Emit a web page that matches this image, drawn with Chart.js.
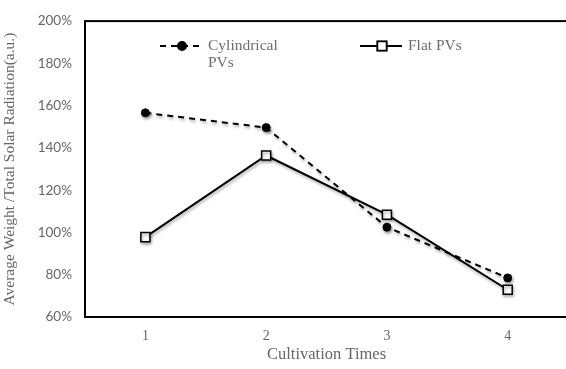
<!DOCTYPE html>
<html><head><meta charset="utf-8">
<script src="https://cdn.jsdelivr.net/npm/chart.js@4/dist/chart.umd.min.js"></script>
<style>html,body{margin:0;padding:0;background:#fff;overflow:hidden;width:566px;height:369px}
#wrap{width:576px;height:369px;position:relative}</style>
</head><body><div id="wrap"><canvas id="c" width="576" height="369"></canvas></div>
<script>
const categories = ['1', '2', '3', '4'];
const seriesNames = ['Cylindrical\nPVs', 'Flat PVs'];
const cylindricalPVs = [156.6, 149.6, 102.5, 78.5];
const flatPVs = [97.8, 136.4, 108.4, 72.9];
const yTicks = [60, 80, 100, 120, 140, 160, 180, 200];
const xTitle = 'Cultivation Times';
const yTitle = 'Average Weight /Total Solar Radiation(a.u.)';

const grey = '#666666';
const serif = '"Liberation Serif", "Times New Roman", serif';

const framePlugin = {
  id: 'frame',
  beforeDatasetsDraw(chart) {
    const a = chart.chartArea, ctx = chart.ctx;
    ctx.save();
    ctx.strokeStyle = '#000';
    ctx.lineWidth = 2;
    ctx.strokeRect(a.left, a.top, a.right - a.left, a.bottom - a.top);
    ctx.restore();
  },
  beforeDatasetDraw(chart) {
    const ctx = chart.ctx;
    ctx.save();
    ctx.shadowColor = 'rgba(0,0,0,0.35)';
    ctx.shadowBlur = 3;
    ctx.shadowOffsetX = 1;
    ctx.shadowOffsetY = 2;
  },
  afterDatasetDraw(chart) { chart.ctx.restore(); }
};

const legendPlugin = {
  id: 'customLegend',
  afterDatasetsDraw(chart) {
    const ctx = chart.ctx;
    const pos = [{x: 160, y: 46}, {x: 360, y: 46}];
    chart.data.datasets.forEach((ds, i) => {
      const p = pos[i];
      ctx.save();
      ctx.strokeStyle = ds.borderColor;
      ctx.lineWidth = ds.borderWidth;
      ctx.setLineDash(ds.borderDash || []);
      ctx.beginPath();
      ctx.moveTo(p.x, p.y); ctx.lineTo(p.x + 42, p.y);
      ctx.stroke();
      ctx.setLineDash([]);
      Chart.helpers.drawPoint(ctx, {
        pointStyle: ds.pointStyle, radius: ds.pointRadius,
        borderWidth: ds.pointBorderWidth || 1
      }, p.x + 22, p.y);
      ctx.fillStyle = ds.pointBackgroundColor;
      ctx.strokeStyle = ds.pointBorderColor;
      ctx.lineWidth = ds.pointBorderWidth || 1;
      ctx.fill(); ctx.stroke();
      ctx.fillStyle = '#6e6e6e';
      ctx.font = '15.5px ' + serif;
      ctx.textBaseline = 'middle';
      ctx.textAlign = 'left';
      ds.label.split('\n').forEach((t, k) => ctx.fillText(t, p.x + 48, p.y + k * 17));
      ctx.restore();
    });
  }
};

new Chart(document.getElementById('c'), {
  type: 'line',
  data: {
    labels: categories,
    datasets: [
      {
        label: seriesNames[0], data: cylindricalPVs,
        borderColor: '#000', borderWidth: 2, borderDash: [6, 5],
        pointStyle: 'circle', pointRadius: 4, pointBackgroundColor: '#000',
        pointBorderColor: '#000', pointBorderWidth: 1, fill: false, tension: 0
      },
      {
        label: seriesNames[1], data: flatPVs,
        borderColor: '#000', borderWidth: 2,
        pointStyle: 'rect', pointRadius: 6.4, pointBackgroundColor: '#fff',
        pointBorderColor: '#000', pointBorderWidth: 1.5, fill: false, tension: 0
      }
    ]
  },
  options: {
    responsive: false, animation: false,
    layout: {padding: {top: 17, right: 1, left: 0, bottom: 0}},
    plugins: {legend: {display: false}, tooltip: {enabled: false}},
    scales: {
      x: {
        offset: true,
        grid: {display: false, drawTicks: false},
        border: {display: false},
        ticks: {color: grey, font: {family: serif, size: 14}, padding: 11},
        title: {display: true, text: xTitle, color: grey, font: {family: serif, size: 16.5}, padding: {top: 0, bottom: 4}},
        afterFit(s) { s.height = 52; }
      },
      y: {
        min: 60, max: 200,
        grid: {display: false, drawTicks: false},
        border: {display: false},
        afterBuildTicks(s) { s.ticks = yTicks.map(v => ({value: v})); },
        ticks: {color: grey, font: {family: 'Lato, "Open Sans", sans-serif', size: 13.5}, padding: 13,
                callback: v => v + '%'},
        title: {display: true, text: yTitle, color: grey, font: {family: serif, size: 15.5}, padding: {top: 1, bottom: 0}},
        afterFit(s) { s.width = 85; }
      }
    }
  },
  plugins: [framePlugin, legendPlugin]
});
</script></body></html>
